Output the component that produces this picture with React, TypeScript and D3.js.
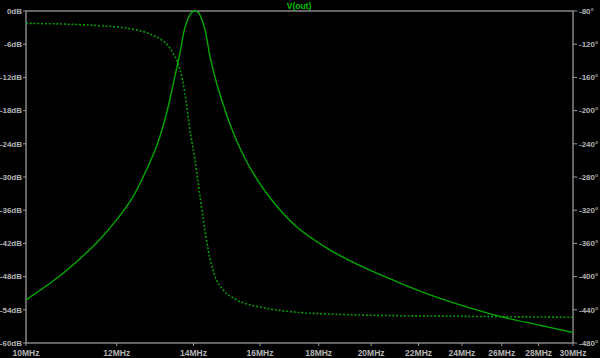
import React from "react";
import * as d3 from "d3";

const freqTicks = [10, 12, 14, 16, 18, 20, 22, 24, 26, 28, 30];
const dbTicks = [0, -6, -12, -18, -24, -30, -36, -42, -48, -54, -60];
const phaseTicks = [-80, -120, -160, -200, -240, -280, -320, -360, -400, -440, -480];

const magFreq = [10.0, 10.56, 11.07, 11.56, 12.0, 12.37, 12.62, 12.96, 13.09, 13.27, 13.44, 13.63, 13.76, 13.9, 13.97, 14.04, 14.11, 14.18, 14.33, 14.47, 14.67, 14.91, 15.06, 15.37, 15.68, 16.33, 17.22, 18.42, 19.69, 21.05, 22.51, 23.91, 25.91, 28.08, 30.0];
const magDb = [-52.2, -48.8, -45.3, -41.6, -37.7, -33.9, -30.5, -25.1, -22.6, -18.3, -13.2, -7.4, -3.0, -0.7, -0.15, 0, -0.15, -0.7, -3.5, -8.2, -13.2, -17.8, -20.4, -24.8, -28.3, -33.8, -39.0, -43.2, -46.3, -48.9, -51.3, -53.1, -55.2, -56.8, -58.1];

const phFreq = [10.0, 11.6, 12.4, 12.83, 13.13, 13.27, 13.44, 13.54, 13.63, 13.76, 13.9, 14.04, 14.16, 14.28, 14.42, 14.62, 14.86, 15.22, 16.22, 17.34, 18.53, 21.2, 22.51, 25.91, 30.0];
const phDeg = [-94.8, -97.7, -102, -107.7, -114.9, -120, -131, -139.5, -151.1, -179.2, -223.4, -259.5, -295.7, -331.8, -368, -400.1, -416.1, -427, -438.2, -443.3, -445.3, -447.1, -447.5, -448.3, -449];

const W = 600, H = 358;
const L = 26, R = 573, T = 11, B = 343;
const axisColor = "#9a9a9a";
const textColor = "#b4b4b4";
const traceColor = "#00a800";
const font = "'Liberation Sans', Arial, sans-serif";

export default function App() {
  const x = d3.scaleLog().domain([10, 30]).range([L, R]);
  const yDb = d3.scaleLinear().domain([0, -60]).range([T, B]);
  const yPh = d3.scaleLinear().domain([-80, -480]).range([T, B]);

  const magLine = d3.line<number>()
    .x((_, i) => x(magFreq[i]))
    .y((d) => yDb(d))
    .curve(d3.curveCatmullRom.alpha(0.5));
  const phLine = d3.line<number>()
    .x((_, i) => x(phFreq[i]))
    .y((d) => yPh(d))
    .curve(d3.curveMonotoneX);

  return (
    <svg width={W} height={H} style={{ position: "absolute", left: 0, top: 0, display: "block" }}>
      <rect x={0} y={0} width={W} height={H} fill="#000" />
      <defs>
        <clipPath id="plot">
          <rect x={L} y={T - 2} width={R - L} height={B - T + 2} />
        </clipPath>
      </defs>
      <rect x={L} y={T} width={R - L} height={B - T} fill="none" stroke={axisColor} strokeWidth={1.3} />
      {dbTicks.map((d) => (
        <g key={"l" + d}>
          <line x1={L - 3} x2={L} y1={yDb(d)} y2={yDb(d)} stroke={axisColor} strokeWidth={1} />
          <text x={L - 4} y={yDb(d)} dy="0.35em" textAnchor="end" fill={textColor} fontSize={8} fontFamily={font} fontWeight="bold">
            {d === 0 ? "0dB" : `${d}dB`}
          </text>
        </g>
      ))}
      {phaseTicks.map((d) => (
        <g key={"r" + d}>
          <line x1={R} x2={R + 4} y1={yPh(d)} y2={yPh(d)} stroke={axisColor} strokeWidth={1} />
          <text x={R + 6} y={yPh(d)} dy="0.35em" textAnchor="start" fill={textColor} fontSize={8} fontFamily={font} fontWeight="bold">
            {`${d}°`}
          </text>
        </g>
      ))}
      {freqTicks.map((f) => (
        <g key={"b" + f}>
          <line x1={x(f)} x2={x(f)} y1={B} y2={B + 3} stroke={axisColor} strokeWidth={1} />
          <text x={x(f)} y={356} textAnchor="middle" fill={textColor} fontSize={8.5} fontFamily={font} fontWeight="bold">
            {`${f}MHz`}
          </text>
        </g>
      ))}
      <text x={299} y={8.5} textAnchor="middle" fill="#00c000" fontSize={8.5} fontFamily={font} fontWeight="bold">
        V(out)
      </text>
      <g clipPath="url(#plot)">
        <path d={phLine(phDeg) || ""} fill="none" stroke={traceColor} strokeWidth={1.6} strokeDasharray="1.8,2" />
        <path d={magLine(magDb) || ""} fill="none" stroke={traceColor} strokeWidth={1.4} />
      </g>
    </svg>
  );
}
